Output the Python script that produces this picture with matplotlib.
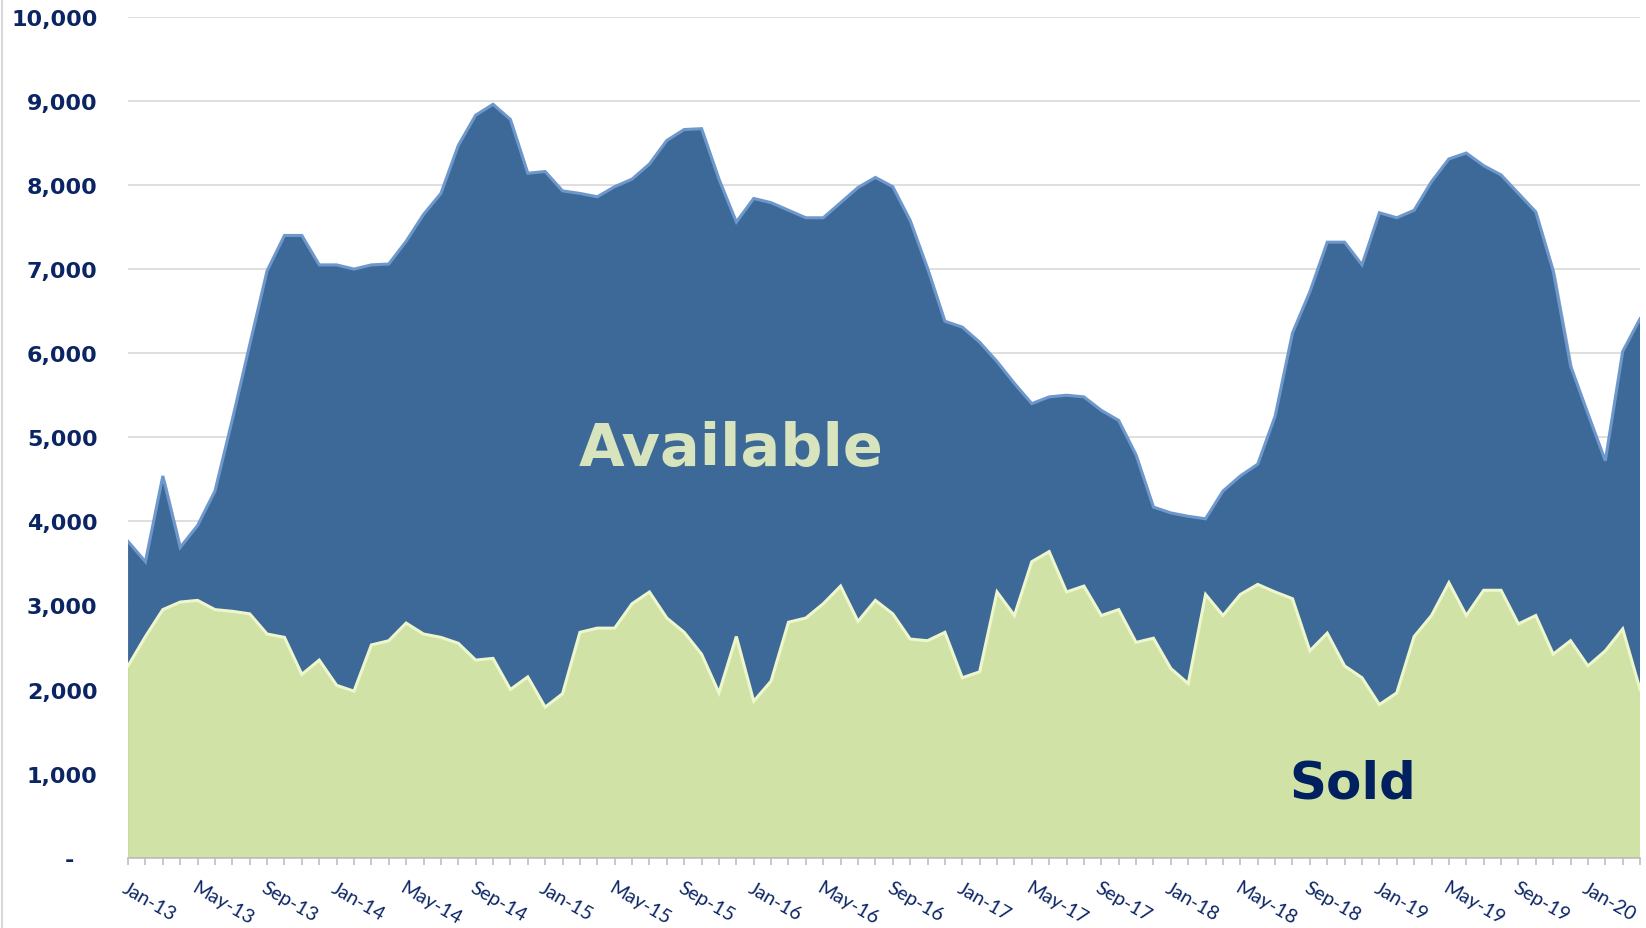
import matplotlib.pyplot as plt
import matplotlib.patheffects as pe
import numpy as np
import pandas as pd

# monthly figures, Jan-13 .. Apr-20
months = pd.date_range("2013-01-01", periods=88, freq="MS")
month_labels = [m.strftime("%b-%y") for m in months]

available = [
    3760, 3520, 4540, 3690, 3950, 4360, 5210, 6100, 6980, 7400, 7400, 7050,
    7050, 7000, 7050, 7060, 7330, 7650, 7900, 8470, 8830, 8960, 8780, 8140,
    8160, 7930, 7900, 7860, 7980, 8070, 8250, 8530, 8660, 8670, 8070, 7560,
    7840, 7790, 7700, 7610, 7610, 7790, 7970, 8090, 7980, 7580, 7010, 6380,
    6310, 6130, 5900, 5640, 5400, 5480, 5500, 5480, 5320, 5200, 4790, 4170,
    4100, 4060, 4030, 4360, 4540, 4680, 5250, 6240, 6730, 7320, 7320, 7050,
    7670, 7610, 7700, 8040, 8310, 8380, 8230, 8120, 7900, 7680, 6980, 5850,
    5280, 4720, 6020, 6410,
]
sold = [
    2280, 2630, 2950, 3040, 3060, 2950, 2930, 2900, 2660, 2620, 2180, 2350,
    2050, 1980, 2530, 2580, 2790, 2660, 2620, 2550, 2350, 2370, 2000, 2150,
    1790, 1950, 2680, 2730, 2730, 3020, 3160, 2850, 2680, 2420, 1960, 2630,
    1860, 2100, 2800, 2850, 3020, 3230, 2810, 3060, 2900, 2600, 2580, 2680,
    2140, 2210, 3160, 2880, 3520, 3640, 3160, 3230, 2880, 2950, 2560, 2610,
    2250, 2070, 3130, 2880, 3130, 3250, 3160, 3080, 2460, 2670, 2280, 2140,
    1820, 1960, 2630, 2880, 3270, 2880, 3180, 3180, 2780, 2880, 2420, 2580,
    2280, 2460, 2720, 2000,
]
y_ticks = [0, 1000, 2000, 3000, 4000, 5000, 6000, 7000, 8000, 9000, 10000]
y_labels = ["-   ", "1,000", "2,000", "3,000", "4,000", "5,000", "6,000",
            "7,000", "8,000", "9,000", "10,000"]

NAVY = "#0B2463"
BLUE = "#3D6999"
GREEN = "#D1E2A6"

x = np.arange(len(months))

fig = plt.figure(figsize=(16.46, 9.29), dpi=100)
ax = fig.add_axes([0.0778, 0.0757, 0.9186, 0.9051])

shadow = [pe.SimplePatchShadow(offset=(2, -3), shadow_rgbFace="#555555", alpha=0.35), pe.Normal()]
ax.fill_between(x, available, 0, color=BLUE, lw=0, zorder=2, path_effects=shadow)
ax.plot(x, available, color="#6E98CC", lw=2.2, zorder=3, solid_joinstyle="miter")
ax.fill_between(x, sold, 0, color=GREEN, lw=0, zorder=4, path_effects=shadow)
ax.plot(x, sold, color="#EEF6CC", lw=2.2, zorder=5, solid_joinstyle="miter")

ax.set_xlim(0, len(months) - 1)
ax.set_ylim(0, 10000)
ax.set_yticks(y_ticks)
ax.set_yticklabels(y_labels)
ax.yaxis.grid(True, color="#D9D9D9", lw=1.2)
ax.set_axisbelow(True)
for lab in ax.get_yticklabels():
    lab.set_fontweight("bold")
    lab.set_fontsize(16)
    lab.set_color(NAVY)
ax.tick_params(axis="y", length=0, pad=22)

ax.set_xticks(x)
ax.set_xticklabels([lab if i % 4 == 0 else "" for i, lab in enumerate(month_labels)],
                   rotation=-30, ha="left", va="top", rotation_mode="anchor",
                   fontsize=14, color=NAVY, family="Lato")
ax.tick_params(axis="x", length=5, width=1.2, color="#BFBFBF", pad=10)

for s in ["top", "right", "left"]:
    ax.spines[s].set_visible(False)
ax.spines["bottom"].set_color("#BFBFBF")
ax.spines["bottom"].set_linewidth(1.2)
ax.spines["bottom"].set_zorder(6)

ax.text(0.399, 0.487, "Available", transform=ax.transAxes, ha="center", va="center",
        fontsize=42.5, fontweight="bold", color="#D7E4BD", zorder=7)
ax.text(0.81, 0.088, "Sold", transform=ax.transAxes, ha="center", va="center",
        fontsize=37, fontweight="bold", color="#002060", zorder=7)

fig.add_artist(plt.Line2D([0.0012, 0.0012], [0, 1], color="#D9D9D9", lw=1.5))

fig.savefig("out.png", dpi=100)
